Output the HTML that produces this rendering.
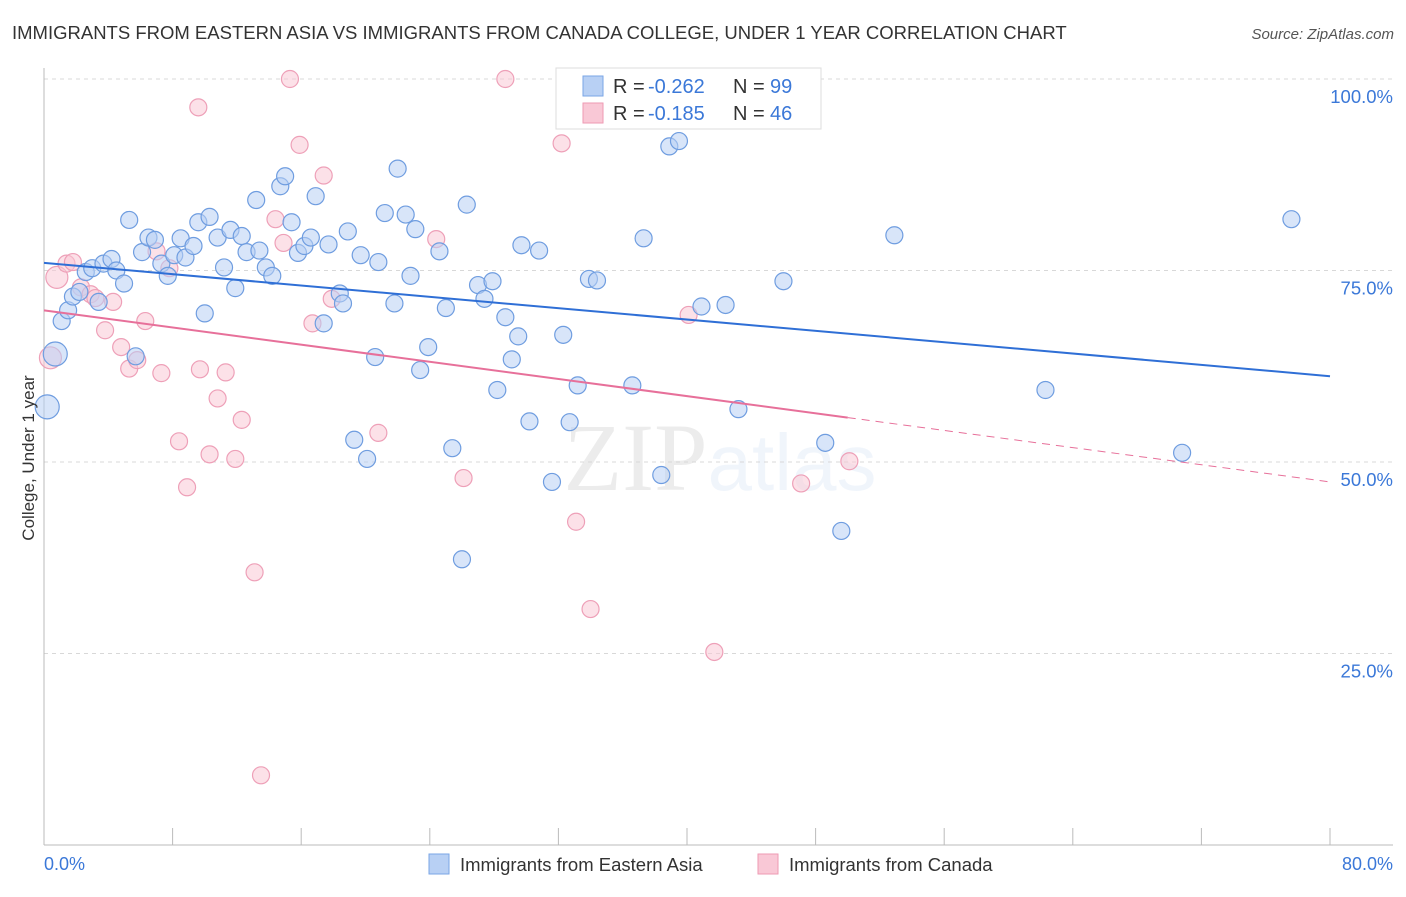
<!DOCTYPE html>
<html><head><meta charset="utf-8"><style>
body{margin:0;background:#fff;font-family:"Liberation Sans",sans-serif;}
</style></head><body>
<svg id="chart" width="1406" height="892" xmlns="http://www.w3.org/2000/svg" font-family="Liberation Sans, sans-serif">
<text x="12" y="39" font-size="18.5" fill="#333">IMMIGRANTS FROM EASTERN ASIA VS IMMIGRANTS FROM CANADA COLLEGE, UNDER 1 YEAR CORRELATION CHART</text>
<text x="1394" y="39" font-size="15" fill="#555" text-anchor="end" font-style="italic">Source: ZipAtlas.com</text>
<text x="720" y="490" font-size="96" text-anchor="middle" fill="#000" opacity="0.07" font-family="Liberation Serif, serif">ZIP<tspan fill="#3a7bd5" opacity="1" font-family="Liberation Sans, sans-serif" font-size="80">atlas</tspan></text>
<g id="grid"></g><g id="marks"></g>
<text transform="translate(34,458) rotate(-90)" font-size="17" fill="#333" text-anchor="middle">College, Under 1 year</text>
<text x="44" y="870" font-size="18" fill="#3b78d8">0.0%</text>
<text x="1393" y="870" font-size="18" fill="#3b78d8" text-anchor="end">80.0%</text>
<g>
<rect x="556" y="68" width="265" height="61" fill="#fff" stroke="#ddd"/>
<rect x="583" y="76" width="20" height="20" fill="#b8d0f4" stroke="#7aa6e6"/>
<rect x="583" y="103" width="20" height="20" fill="#f9c8d6" stroke="#ee9ab3"/>
<text x="613" y="93" font-size="20" fill="#333">R =</text>
<text x="648" y="93" font-size="20" fill="#3b78d8">-0.262</text>
<text x="733" y="93" font-size="20" fill="#333">N =</text>
<text x="770" y="93" font-size="20" fill="#3b78d8">99</text>
<text x="613" y="120" font-size="20" fill="#333">R =</text>
<text x="648" y="120" font-size="20" fill="#3b78d8">-0.185</text>
<text x="733" y="120" font-size="20" fill="#333">N =</text>
<text x="770" y="120" font-size="20" fill="#3b78d8">46</text>
</g>
<g>
<rect x="429" y="854" width="20" height="20" fill="#b8d0f4" stroke="#7aa6e6"/>
<text x="460" y="871" font-size="18.5" fill="#333">Immigrants from Eastern Asia</text>
<rect x="758" y="854" width="20" height="20" fill="#f9c8d6" stroke="#ee9ab3"/>
<text x="789" y="871" font-size="18.5" fill="#333">Immigrants from Canada</text>
</g>
</svg>
<script>
const yTicks=[100,75,50,25];
const yTickLabels=["100.0%","75.0%","50.0%","25.0%"];
const xTicks=[0,8,16,24,32,40,48,56,64,72,80];
const blueX=[0.2,0.7,1.1,1.5,1.8,2.2,2.6,3.0,3.4,3.7,4.2,4.5,4.98,5.3,5.7,6.1,6.5,6.9,7.3,7.7,8.1,8.5,8.8,9.3,9.6,10.0,10.3,10.8,11.2,11.6,11.9,12.3,12.6,13.2,13.4,13.8,14.2,14.7,15.0,15.4,15.8,16.2,16.6,16.9,17.4,17.7,18.4,18.6,18.9,19.3,19.7,20.1,20.6,20.8,21.2,21.8,22.0,22.5,22.8,23.1,23.4,23.9,24.6,25.0,25.4,26.0,26.3,27.0,27.4,27.9,28.2,28.7,29.1,29.5,29.7,30.2,30.8,31.6,32.3,32.7,33.2,33.9,34.4,36.6,37.3,38.0,38.4,38.9,39.5,40.9,42.4,43.2,46.0,48.6,49.6,52.9,62.3,70.8,77.6,33.2];
const blueY=[57.2,64.1,68.4,69.8,71.6,72.2,74.8,75.3,70.9,75.9,76.5,75.0,73.3,81.6,63.8,77.4,79.3,79.0,75.9,74.3,77.0,79.2,76.7,78.2,81.3,69.4,82.0,79.3,75.4,80.3,72.7,79.5,77.4,84.2,77.6,75.4,74.3,86.0,87.3,81.3,77.3,78.2,79.3,84.7,68.1,78.4,72.0,70.7,80.1,52.9,77.0,50.4,63.7,76.1,82.5,70.7,88.3,82.3,74.3,80.4,62.0,65.0,77.5,70.1,51.8,37.3,83.6,73.1,71.3,73.6,59.4,68.9,63.4,66.4,78.3,55.3,77.6,47.4,66.6,55.2,60.0,73.9,73.7,60.0,79.2,96.6,48.3,91.2,91.9,70.3,70.5,56.9,73.6,52.5,41.0,79.6,59.4,51.2,81.7,99.8];
const pinkX=[0.4,0.8,1.4,1.8,2.3,2.9,3.2,3.8,4.3,4.8,5.3,5.8,6.3,7.0,7.3,7.8,8.4,8.9,9.6,9.7,10.3,10.8,11.3,11.9,12.3,13.1,13.5,14.4,14.9,15.3,15.9,16.7,17.4,17.9,20.8,24.4,26.1,28.7,32.2,33.1,34.0,40.1,41.7,47.1,50.1];
const pinkY=[63.6,74.1,75.9,76.1,72.8,71.9,71.4,67.2,70.9,65.0,62.2,63.3,68.4,77.5,61.6,75.3,52.7,46.7,96.3,62.1,51.0,58.3,61.7,50.4,55.5,35.6,9.1,81.7,78.6,100,91.4,68.1,87.4,71.3,53.8,79.1,47.9,100,91.6,42.2,30.8,69.2,25.2,47.2,50.1];
const blueLine=[76.0,61.2];
const pinkLine=[69.8,55.8,47.4];
const pinkSolidEnd=50;
const NS="http://www.w3.org/2000/svg";
const X=v=>44+v/80*1286, Y=v=>845-v/100*766;
const grid=document.getElementById('grid'), marks=document.getElementById('marks');
function mk(tag,attrs,parent){const e=document.createElementNS(NS,tag);for(const k in attrs)e.setAttribute(k,attrs[k]);parent.appendChild(e);return e;}
yTicks.forEach((t,i)=>{
 const l=mk('line',{x1:44,x2:1393,y1:Y(t),y2:Y(t),stroke:'#d8d8d8','stroke-dasharray':'4,4'},grid);
 
 
 const tx=mk('text',{x:1393,y:Y(t)+24,'font-size':18.5,fill:'#3b78d8','text-anchor':'end'},grid);
 tx.textContent=yTickLabels[i];
 
 
});
const ax=mk('line',{x1:44,x2:44,y1:68,y2:845,stroke:'#bbb'},grid);


const bx=mk('line',{x1:44,x2:1393,y1:845,y2:845,stroke:'#bbb'},grid);


xTicks.forEach(t=>{const l=mk('line',{x1:X(t),x2:X(t),y1:828,y2:845,stroke:'#bbb'},grid);
 
 });
pinkX.forEach((x,i)=>{const big=i<2;const c=mk('circle',{cx:X(x),cy:Y(pinkY[i]),r:big?11:8.5,fill:'#f9c8d6','fill-opacity':0.55,stroke:'#eea0b8','stroke-width':1.2},marks);
 
 });
blueX.forEach((x,i)=>{const big=i<2;const c=mk('circle',{cx:X(x),cy:Y(blueY[i]),r:big?12:8.5,fill:'#b8d0f4','fill-opacity':0.55,stroke:'#6f9de0','stroke-width':1.2},marks);
 
 });
const bl=mk('line',{x1:X(0),y1:Y(blueLine[0]),x2:X(80),y2:Y(blueLine[1]),stroke:'#2f6fd6','stroke-width':2},marks);


const pl=mk('line',{x1:X(0),y1:Y(pinkLine[0]),x2:X(pinkSolidEnd),y2:Y(pinkLine[1]),stroke:'#e7709a','stroke-width':2},marks);


const pd=mk('line',{x1:X(pinkSolidEnd),y1:Y(pinkLine[1]),x2:X(80),y2:Y(pinkLine[2]),stroke:'#e7709a','stroke-width':1,'stroke-dasharray':'8,6'},marks);


</script>
</body></html>
